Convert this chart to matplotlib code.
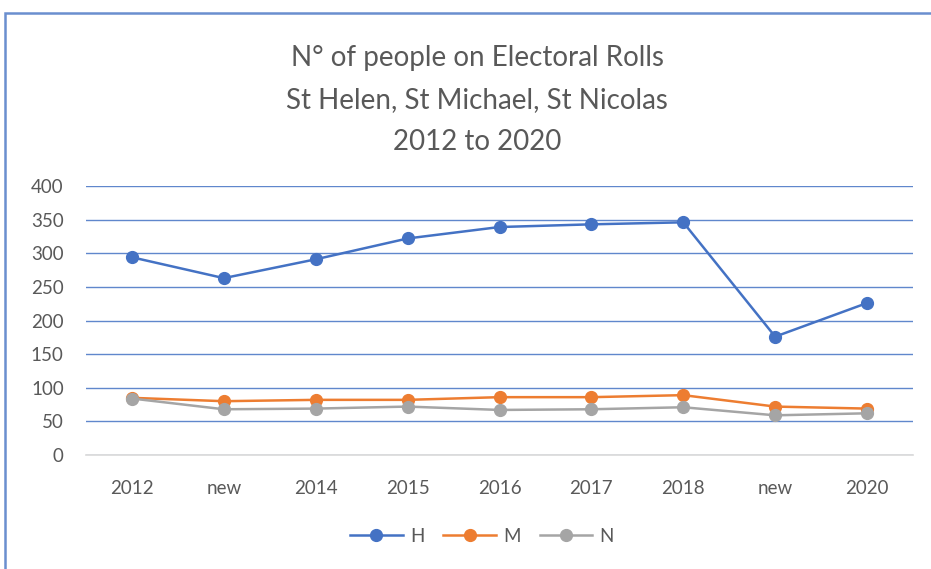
import matplotlib
matplotlib.use('Agg')
import matplotlib.pyplot as plt
from matplotlib.patches import Rectangle

plt.rcParams['font.family'] = ['Lato', 'DejaVu Sans']

categories = ['2012', 'new', '2014', '2015', '2016', '2017', '2018', 'new', '2020']
h_values = [294, 263, 291, 322, 339, 343, 346, 176, 226]
m_values = [85, 80, 82, 82, 86, 86, 89, 72, 69]
n_values = [84, 68, 69, 72, 67, 68, 71, 59, 62]

text_col = '#595959'

fig = plt.figure(figsize=(9.31, 5.69), dpi=100)
# chart border (runs off the right / bottom edge)
fig.patches.append(Rectangle((5 / 931, -0.1), 1.2, (569 - 13) / 569 + 0.1,
                             transform=fig.transFigure, fill=False,
                             edgecolor='#6A8FCF', lw=1.8))

ax = fig.add_axes([86 / 931, 1 - 455 / 569, (913 - 86) / 931, (455 - 186) / 569])
x = range(len(categories))
ax.plot(x, h_values, color='#4472C4', lw=1.8, marker='o', ms=8.5, label='H', zorder=3)
ax.plot(x, m_values, color='#ED7D31', lw=1.8, marker='o', ms=8.5, label='M', zorder=3)
ax.plot(x, n_values, color='#A5A5A5', lw=1.8, marker='o', ms=8.5, label='N', zorder=3)

ax.set_xlim(-0.5, len(categories) - 0.5)
ax.set_ylim(0, 400)
ax.set_yticks(range(0, 401, 50))
ax.set_xticks(list(x))
ax.set_xticklabels(categories)
ax.yaxis.grid(True, color='#4472C4', lw=1, alpha=0.85)
ax.set_axisbelow(True)
for s in ['top', 'right', 'left']:
    ax.spines[s].set_visible(False)
ax.spines['bottom'].set_color('#D9D9D9')
ax.spines['bottom'].set_linewidth(1.2)
ax.tick_params(axis='both', length=0, labelsize=13.5, colors=text_col)
ax.tick_params(axis='x', pad=18)
ax.tick_params(axis='y', pad=16)

fig.text(477 / 931, 1 - 100 / 569,
         'N° of people on Electoral Rolls\nSt Helen, St Michael, St Nicolas\n2012 to 2020',
         ha='center', va='center', fontsize=20, color=text_col, linespacing=1.75)

ax.legend(loc='center', bbox_to_anchor=((482 - 86) / 827, (455 - 536) / 269), ncol=3,
          frameon=False, fontsize=13.5, labelcolor=text_col, handlelength=2.8,
          columnspacing=1.0, handletextpad=0.4)

fig.savefig('out.png', dpi=100)
